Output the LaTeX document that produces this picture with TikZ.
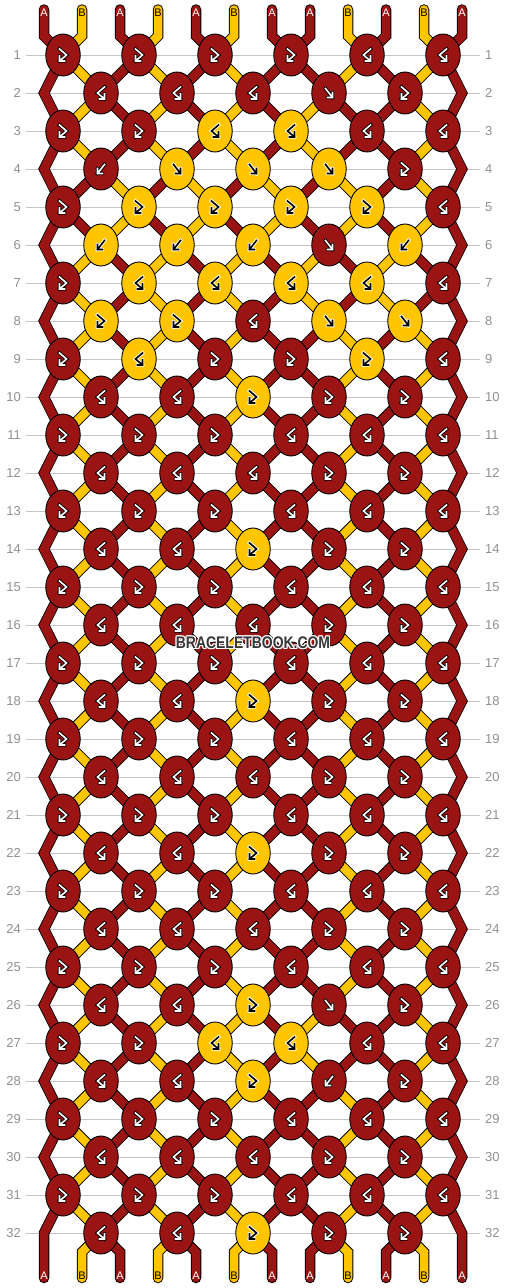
\documentclass[tikz,border=0pt]{standalone}
\usepackage{fontspec}
\setmainfont{Liberation Sans}
\usetikzlibrary{shapes.geometric}
\definecolor{kred}{RGB}{155,20,20}
\definecolor{kyel}{RGB}{255,198,0}
\definecolor{linegray}{RGB}{195,195,195}
\definecolor{numgray}{RGB}{145,145,145}
\definecolor{wmgray}{RGB}{55,55,55}

% thread colours after each row (positions 1..12)
\def\SO{kred,kyel,kred,kyel,kred,kyel,kred,kred,kyel,kred,kyel,kred}
\def\SI{kred,kyel,kred,kyel,kred,kyel,kred,kyel,kred,kred,kyel,kred}
\def\SII{kred,kred,kyel,kred,kyel,kred,kyel,kred,kyel,kred,kyel,kred}
\def\SIII{kred,kyel,kred,kyel,kred,kyel,kred,kyel,kred,kyel,kred,kred}
\newcommand\getstate[1]{%
  \ifnum#1<2 \let\curstate\SO
  \else\ifnum#1<4 \let\curstate\SI
  \else\ifnum#1<6 \let\curstate\SII
  \else\ifnum#1<8 \let\curstate\SIII
  \else\ifnum#1<26 \let\curstate\SO
  \else\ifnum#1<28 \let\curstate\SI
  \else\let\curstate\SO\fi\fi\fi\fi\fi\fi}

% x position of thread i at row r
\newcommand\setpx[3]{%
  \ifodd#2\relax
    \pgfmathsetmacro#1{63+76*(int((#3+1)/2)-1)}%
  \else
    \ifnum#3=1 \def#1{44}\else\ifnum#3=12 \def#1{462}\else
      \pgfmathsetmacro#1{101+76*(int(#3/2)-1)}\fi\fi
  \fi}

% knots of each row
\def\oddstd{rX,rX,rX,rY,rY,rY}
\def\evenstd{rY,rY,rY,rX,rX}
\def\evenmid{rY,rY,yX,rX,rX}
\newcommand\rowknots[1]{%
  \ifcase#1\or
  \def\ks{rX,rX,rX,rX,rY,rY}\or
  \def\ks{rY,rY,rY,rF,rX}\or
  \def\ks{rX,rX,yY,yY,rY,rY}\or
  \def\ks{rB,yF,yF,yF,rX}\or
  \def\ks{rX,yX,yX,yX,yX,rY}\or
  \def\ks{yB,yB,yB,rF,yB}\or
  \def\ks{rX,yY,yY,yY,yY,rY}\or
  \def\ks{yX,yX,rY,yF,yF}\or
  \def\ks{rX,yY,rX,rX,yX,rY}\or
  \def\ks{rY,rY,yX,rX,rX}\or
  \let\ks\oddstd\or \let\ks\evenstd\or
  \let\ks\oddstd\or \let\ks\evenmid\or
  \let\ks\oddstd\or \let\ks\evenstd\or
  \let\ks\oddstd\or \let\ks\evenmid\or
  \let\ks\oddstd\or \let\ks\evenstd\or
  \let\ks\oddstd\or \let\ks\evenmid\or
  \let\ks\oddstd\or \let\ks\evenstd\or
  \let\ks\oddstd\or
  \def\ks{rY,rY,yX,rF,rX}\or
  \def\ks{rX,rX,yY,yY,rY,rY}\or
  \def\ks{rY,rY,yX,rB,rX}\or
  \let\ks\oddstd\or \let\ks\evenstd\or
  \let\ks\oddstd\or \let\ks\evenmid\fi}

\def\knotparse#1#2\relax#3#4#5{%
  \if r#1\relax\def\kfill{kred}\def\kfg{white}\def\kbg{black}%
  \else\def\kfill{kyel}\def\kfg{black}\def\kbg{white}\fi
  \node[knot, fill=\kfill] (#3) at (#4,#5) {};
  \pic[draw=\kbg, line width=3.4pt, line cap=rect] at (#4,#5) {glyph#2};
  \pic[draw=\kfg, line width=1.6pt, line cap=rect] at (#4,#5) {glyph#2};
}

\newcommand\wmtext{\scalebox{0.83}[1]{BRACELETBOOK.COM}}

\tikzset{
  glyphX/.pic={\path[pic actions] (-3.5,-6) -- (3.5,0) -- (-3.5,6) (-3.5,1) -- (-3.5,6) -- (1.5,6);},
  glyphY/.pic={\path[pic actions] (3.5,-6) -- (-3.5,0) -- (3.5,6) (3.5,1) -- (3.5,6) -- (-1.5,6);},
  glyphF/.pic={\path[pic actions] (-3.5,-4.5) -- (3.5,4.5) (3.5,-0.5) -- (3.5,4.5) -- (-1.5,4.5);},
  glyphB/.pic={\path[pic actions] (3.5,-4.5) -- (-3.5,4.5) (-3.5,-0.5) -- (-3.5,4.5) -- (1.5,4.5);},
  knot/.style={ellipse, draw=black, line width=0.9pt, minimum width=34.5pt, minimum height=42pt, inner sep=0pt},
  threadout/.style={draw=black, line width=10.5pt, line cap=round, line join=miter},
  threadin/.style={line width=8.5pt, line join=miter},
  rowline/.style={draw=linegray, line width=1pt},
  rownum/.style={text=numgray, inner sep=0pt, font=\fontsize{13}{13}\selectfont},
  slabel/.style={inner sep=0pt, font=\fontsize{11}{11}\selectfont},
  wm/.style={inner sep=0pt, font=\bfseries\fontsize{16.8}{17}\selectfont},
}

\begin{document}
\begin{tikzpicture}[x=1pt,y=-1pt]
\useasboundingbox (0,0) rectangle (506,1288);
\fill[white] (0,0) rectangle (506,1288);

% row guide lines and numbers
\foreach \r in {1,...,32}{
  \pgfmathsetmacro\yy{55+38*(\r-1)}
  \node[rownum, anchor=east] (ln-\r) at (21,\yy) {\r};
  \node[rownum, anchor=west] (rn-\r) at (485,\yy) {\r};
  \draw[rowline] ([xshift=5pt]ln-\r.east |- 0,\yy) -- ([xshift=-5pt]rn-\r.west |- 0,\yy);
}

% thread coordinates
\foreach \i in {1,...,12}{
  \pgfmathsetmacro\xs{44+38*(\i-1)}
  \coordinate (t-\i) at (\xs,9.5);
  \coordinate (u-\i) at (\xs,36);
  \coordinate (v-\i) at (\xs,1252);
  \coordinate (w-\i) at (\xs,1278);
  \foreach \r in {1,...,32}{
    \setpx\xa{\r}{\i}
    \pgfmathsetmacro\ya{55+38*(\r-1)}
    \coordinate (p-\r-\i) at (\xa,\ya);
  }
}

% thread outlines
\foreach \i in {1,...,12}{
  \draw[threadout] (t-\i) -- (u-\i) \foreach \r in {1,...,32}{ -- (p-\r-\i) } -- (v-\i) -- (w-\i);
}

% thread fills: top and bottom ends
\foreach \c [count=\i] in \SO {
  \draw[threadin, draw=\c, line cap=round] (t-\i) -- (u-\i) -- (p-1-\i);
  \draw[threadin, draw=\c, line cap=round] (p-32-\i) -- (v-\i) -- (w-\i);
}
% thread fills between rows
\foreach \r in {1,...,31}{
  \pgfmathtruncatemacro\rn{\r+1}
  \getstate{\r}
  \foreach \c [count=\i] in \curstate {
    \draw[threadin, draw=\c] (p-\r-\i) -- (p-\rn-\i);
  }
}
% edge threads as continuous paths
\foreach \i in {1,12}{
  \draw[threadin, draw=kred, line cap=round] (t-\i) -- (u-\i) \foreach \r in {1,...,32}{ -- (p-\r-\i) } -- (v-\i) -- (w-\i);
}

% string labels
\foreach \l/\tc [count=\i] in {A/white,B/black,A/white,B/black,A/white,B/black,A/white,A/white,B/black,A/white,B/black,A/white}{
  \pgfmathsetmacro\xs{44+38*(\i-1)}
  \node[slabel, text=\tc] (top-\i) at (\xs,12.7) {\l};
  \node[slabel, text=\tc] (bot-\i) at (\xs,1276) {\l};
}

% knots
\foreach \r in {1,...,32}{
  \rowknots{\r}
  \pgfmathsetmacro\yy{55+38*(\r-1)}
  \foreach \k [count=\j] in \ks {
    \ifodd\r\relax
      \pgfmathsetmacro\xx{63+76*(\j-1)}%
    \else
      \pgfmathsetmacro\xx{101+76*(\j-1)}%
    \fi
    \expandafter\knotparse\k\relax{k-\r-\j}{\xx}{\yy}
  }
}

% watermark
\foreach \dx/\dy [count=\h] in {1/0,-1/0,0/1,0/-1,1/1,1/-1,-1/1,-1/-1}{
  \node[wm, text=white] (halo\h) at (253+\dx,643+\dy) {\wmtext};
}
\node[wm, text=wmgray] (wm) at (253,643) {\wmtext};
\end{tikzpicture}
\end{document}
